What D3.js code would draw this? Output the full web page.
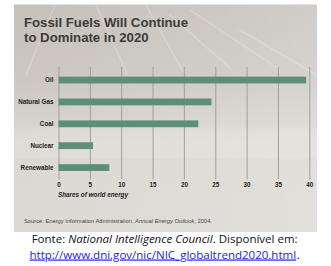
<!DOCTYPE html>
<html><head><meta charset="utf-8">
<script src="https://cdn.jsdelivr.net/npm/d3@7"></script>
<style>html,body{margin:0;padding:0;background:#fff;}svg{display:block;}</style>
</head><body>
<script>
const categories = ["Oil", "Natural Gas", "Coal", "Nuclear", "Renewable"];
const values = [39.5, 24.4, 22.3, 5.5, 8.1];
const tickValues = [0, 5, 10, 15, 20, 25, 30, 35, 40];
const titleLines = ["Fossil Fuels Will Continue", "to Dominate in 2020"];

const W = 331, H = 266;
const svg = d3.select("body").append("svg").attr("width", W).attr("height", H);
const defs = svg.append("defs");
const grad = defs.append("linearGradient").attr("id","bg").attr("x1",0).attr("y1",0).attr("x2",0).attr("y2",1);
grad.append("stop").attr("offset","0%").attr("stop-color","#c6c0ba");
grad.append("stop").attr("offset","35%").attr("stop-color","#cdc8c2");
grad.append("stop").attr("offset","60%").attr("stop-color","#dbd8d1");
grad.append("stop").attr("offset","100%").attr("stop-color","#dcd9d3");
const hg = defs.append("linearGradient").attr("id","hg").attr("x1",0).attr("y1",0).attr("x2",1).attr("y2",0);
hg.append("stop").attr("offset","0%").attr("stop-color","#fff").attr("stop-opacity",0);
hg.append("stop").attr("offset","70%").attr("stop-color","#fff").attr("stop-opacity",0.12);
hg.append("stop").attr("offset","100%").attr("stop-color","#fff").attr("stop-opacity",0.2);

// panel
svg.append("rect").attr("x",14).attr("y",4.5).attr("width",303).attr("height",227.5).attr("fill","url(#bg)");
svg.append("rect").attr("x",14).attr("y",4.5).attr("width",303).attr("height",227.5).attr("fill","url(#hg)");
// decorative streaks
const streaks = svg.append("g").attr("stroke","#fff").attr("fill","none").attr("stroke-linecap","round");
[[[55,5],[26,75]],[[96,5],[128,75]],[[146,5],[182,70]],[[170,15],[230,68]],[[190,10],[280,70]],[[240,30],[317,75]]].forEach(p=>{
  streaks.append("line").attr("x1",p[0][0]).attr("y1",p[0][1]).attr("x2",p[1][0]).attr("y2",p[1][1])
    .attr("stroke-width",1.5).attr("stroke-opacity",0.22);
});
streaks.append("rect").attr("x",14).attr("y",128).attr("width",303).attr("height",30).attr("fill","#fff").attr("fill-opacity",0.12).attr("stroke","none");

// title
svg.append("g").selectAll("text").data(titleLines).join("text")
  .attr("x",24).attr("y",(d,i)=>27+i*15)
  .attr("font-family","Liberation Sans, Arial, sans-serif").attr("font-weight","bold")
  .attr("font-size",13.2).attr("fill","#3b3b3b").text(d=>d);

const x = d3.scaleLinear().domain([0,40]).range([58.5,309.3]);
const y = d3.scaleBand().domain(categories).range([69,178.6]).paddingInner(0.69).paddingOuter(0.35);

const gridBottom = 179.5, gridTop = 67;
const xAxis = svg.append("g").attr("transform",`translate(0,${gridBottom})`)
  .call(d3.axisBottom(x).tickValues(tickValues).tickSize(-(gridBottom-gridTop)).tickPadding(3));
xAxis.select(".domain").remove();
xAxis.selectAll(".tick line").attr("stroke","#9c9894").attr("stroke-width",0.9);
xAxis.selectAll(".tick text").attr("font-family","Liberation Sans, Arial, sans-serif")
  .attr("font-weight","bold").attr("font-size",6.3).attr("fill","#222");

const yAxis = svg.append("g").attr("transform",`translate(${x(0)},0)`)
  .call(d3.axisLeft(y).tickSize(0).tickPadding(5));
yAxis.select(".domain").remove();
yAxis.selectAll(".tick text").attr("font-family","Liberation Sans, Arial, sans-serif")
  .attr("font-weight","bold").attr("font-size",6.3).attr("fill","#222");

svg.append("g").selectAll("rect").data(categories).join("rect")
  .attr("x",x(0)).attr("y",d=>y(d)).attr("height",y.bandwidth())
  .attr("width",(d,i)=>x(values[i])-x(0)).attr("fill","#5c8e78");

svg.append("text").attr("x",58).attr("y",196.5)
  .attr("font-family","Liberation Sans, Arial, sans-serif").attr("font-weight","bold")
  .attr("font-style","italic").attr("font-size",6.3).attr("fill","#222")
  .attr("textLength",70).attr("lengthAdjust","spacingAndGlyphs")
  .text("Shares of world energy");

const src = svg.append("text").attr("x",24).attr("y",222.5)
  .attr("font-family","Liberation Sans, Arial, sans-serif").attr("font-size",5.2).attr("fill","#444")
  .attr("textLength",188).attr("lengthAdjust","spacingAndGlyphs");
src.append("tspan").text("Source: Energy Information Administration, ");
src.append("tspan").attr("font-style","italic").text("Annual Energy Outlook");
src.append("tspan").text(", 2004.");

// fit font size to a target width
function fit(sel, target){
  const w = sel.node().getComputedTextLength();
  const fs = parseFloat(sel.attr("font-size"));
  sel.attr("font-size", fs*target/w);
}

const f = svg.append("text").attr("x",31.7).attr("y",243)
  .attr("font-family","Open Sans, Liberation Sans, sans-serif").attr("font-size",12).attr("fill","#111");
f.append("tspan").text("Fonte: ");
f.append("tspan").attr("font-style","italic").text("National Intelligence Council");
f.append("tspan").text(". Disponível em:");
fit(f, 266);

const l = svg.append("text").attr("x",29.5).attr("y",258.5)
  .attr("font-family","Open Sans, Liberation Sans, sans-serif").attr("font-size",12).attr("fill","#1a1aff")
  .attr("text-decoration","underline")
  .text("http://www.dni.gov/nic/NIC_globaltrend2020.html");
fit(l, 267);
svg.append("text").attr("x",29.5+267.3).attr("y",258.5)
  .attr("font-family","Open Sans, Liberation Sans, sans-serif").attr("font-size",l.attr("font-size")).attr("fill","#111")
  .text(".");
</script>
</body></html>
